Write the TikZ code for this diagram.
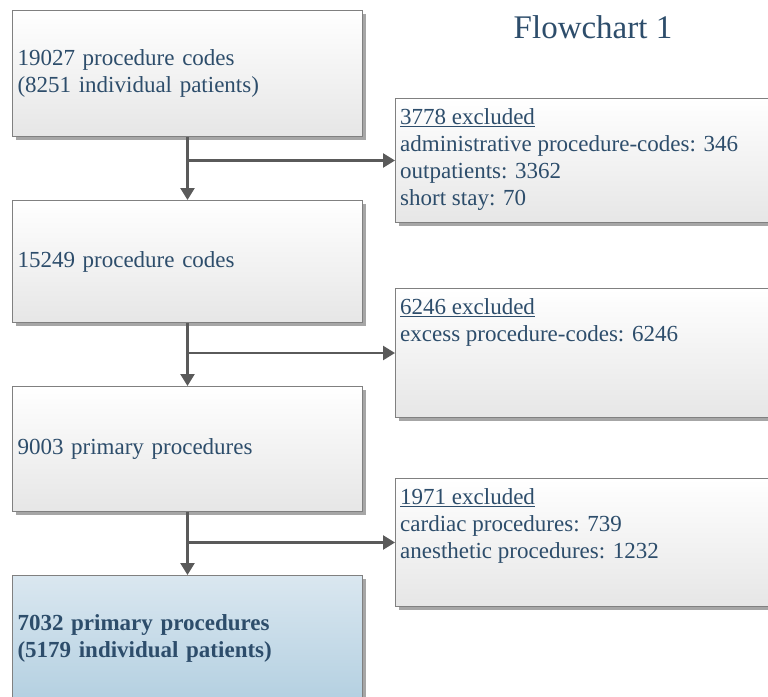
\documentclass[tikz,border=0pt]{standalone}
\usepackage{fontspec}
\setmainfont{Liberation Serif}
\usetikzlibrary{arrows.meta,positioning,calc,shadows}
\definecolor{txtblue}{RGB}{45,77,107}
\definecolor{boxedge}{RGB}{128,128,128}
\definecolor{boxgray}{RGB}{230,230,230}
\definecolor{finaltop}{RGB}{218,231,240}
\definecolor{finalbot}{RGB}{180,208,225}
\definecolor{arrgray}{RGB}{90,90,90}
\begin{document}
\begin{tikzpicture}[x=1pt,y=-1pt,
  every node/.style={font=\fontsize{23}{27}\selectfont,text=txtblue,align=left},
  box/.style={draw=boxedge,line width=1pt,top color=white,bottom color=boxgray,
    drop shadow={shadow xshift=3pt,shadow yshift=-3pt,fill=black!35,opacity=1},
    minimum width=350pt,text width=340pt,inner xsep=5pt,anchor=north west},
  exbox/.style={draw=boxedge,line width=1pt,top color=white,bottom color=boxgray,
    drop shadow={shadow xshift=3pt,shadow yshift=-3pt,fill=black!35,opacity=1},
    minimum width=380pt,minimum height=124pt,anchor=north west},
  extext/.style={anchor=north west,inner xsep=5pt,inner ysep=10pt},
  finalbox/.style={box,top color=finaltop,bottom color=finalbot,font=\fontsize{23}{27}\selectfont\bfseries},
  arr/.style={draw=arrgray,line width=2.5pt,-{Triangle[length=12pt,width=14pt]}}]
\useasboundingbox (0,0) rectangle (768,696);
% main column
\node[box,minimum height=126pt] (b1) at (12,10) {19027 procedure codes\\(8251 individual patients)};
\node[box,minimum height=122pt] (b2) at (12,200) {15249 procedure codes};
\node[box,minimum height=125pt] (b3) at (12,386) {9003 primary procedures};
\node[finalbox,minimum height=125pt] (b4) at (12,575) {7032 primary procedures\\(5179 individual patients)};
% excluded boxes
\node[exbox] (e1) at (395,98) {};
\node[extext] (e1t) at (e1.north west) {\underline{3778 excluded}\\administrative procedure-codes: 346\\outpatients: 3362\\short stay: 70};
\node[exbox,minimum height=129pt] (e2) at (395,288) {};
\node[extext] (e2t) at (e2.north west) {\underline{6246 excluded}\\excess procedure-codes: 6246};
\node[exbox,minimum height=128pt] (e3) at (395,478) {};
\node[extext] (e3t) at (e3.north west) {\underline{1971 excluded}\\cardiac procedures: 739\\anesthetic procedures: 1232};
% title
\node[font=\fontsize{33}{36}\selectfont] (title) at (593,27) {Flowchart 1};
% connectors
\draw[arr] (b1.south) -- (b2.north);
\draw[arr] (b2.south) -- (b3.north);
\draw[arr] (b3.south) -- (b4.north);
\draw[arr] (b1.south |- e1.west) -- (e1.west);
\draw[arr] (b2.south |- e2.west) -- (e2.west);
\draw[arr] (b3.south |- e3.west) -- (e3.west);
\end{tikzpicture}
\end{document}
